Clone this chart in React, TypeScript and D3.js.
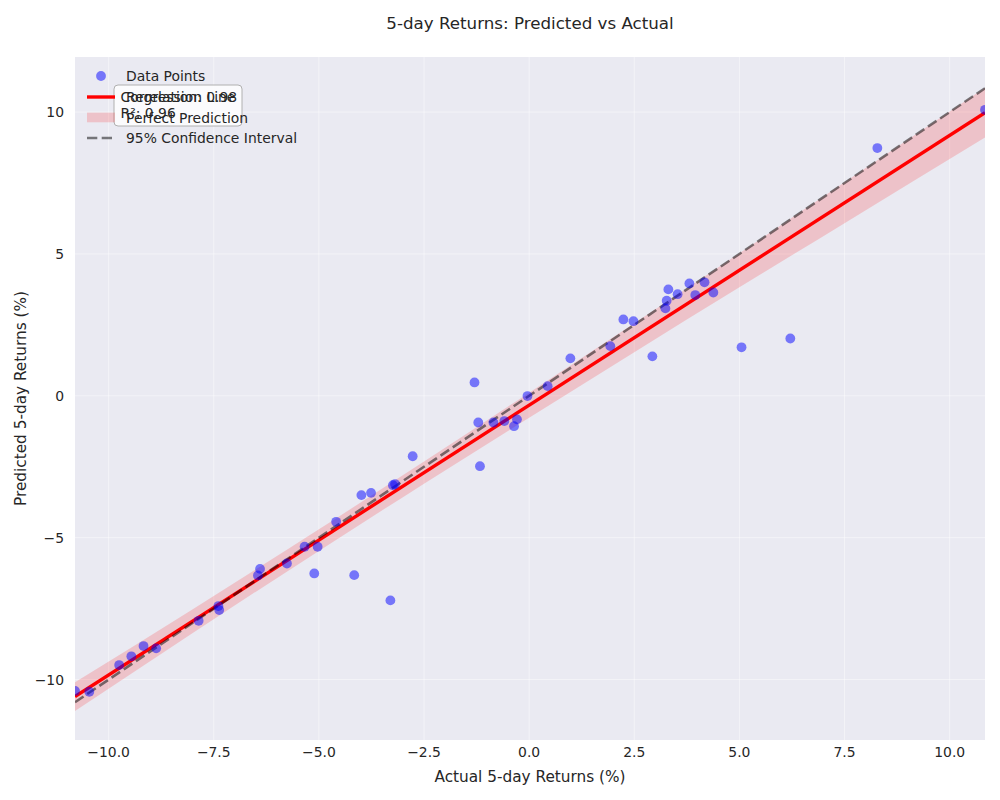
import React from "react";
import * as d3 from "d3";

// ---- data ----
const actual: number[] = [
  -10.8, -10.46, -9.75, -9.46, -9.17, -8.87, -7.86, -7.39, -7.37, -6.45, -6.4,
  -5.76, -5.34, -5.03, -5.11, -4.59, -4.16, -3.99, -3.76, -3.3, -3.24, -3.19,
  -2.77, -1.3, -1.21, -1.17, -0.85, -0.59, -0.29, -0.36, -0.04, 0.44, 0.98,
  1.93, 2.24, 2.48, 2.93, 3.24, 3.27, 3.31, 3.53, 3.81, 3.95, 4.17, 4.38, 5.05,
  6.21, 8.28, 10.84,
];
const predicted: number[] = [
  -10.4, -10.43, -9.49, -9.18, -8.82, -8.9, -7.93, -7.41, -7.55, -6.33, -6.1,
  -5.91, -5.32, -5.32, -6.26, -4.44, -6.32, -3.5, -3.42, -7.21, -3.15, -3.11,
  -2.13, 0.47, -0.94, -2.48, -0.94, -0.89, -0.83, -1.07, -0.01, 0.34, 1.32,
  1.75, 2.69, 2.63, 1.39, 3.08, 3.35, 3.75, 3.58, 3.96, 3.55, 4.0, 3.64, 1.71,
  2.02, 8.73, 10.08,
];

const regressionSlope = 0.951;
const regressionIntercept = -0.33;

// confidence band half-widths sampled along x
const bandX: number[] = [-10.8, -8, -5, -2.5, 0, 2.5, 5, 7.5, 10.84];
const bandHalf: number[] = [0.51, 0.42, 0.38, 0.39, 0.44, 0.51, 0.6, 0.72, 0.88];

const xTicks: number[] = [-10, -7.5, -5, -2.5, 0, 2.5, 5, 7.5, 10];
const yTicks: number[] = [-10, -5, 0, 5, 10];
const xDomain: [number, number] = [-10.8, 10.84];
const yDomain: [number, number] = [-12.13, 11.94];

const correlationText = "Correlation: 0.98";
const r2Text = "R²: 0.96";
const legendLabels: string[] = [
  "Data Points",
  "Regression Line",
  "Perfect Prediction",
  "95% Confidence Interval",
];

const FONT = "DejaVu Sans, sans-serif";
const TEXT = "#262626";

export default function App() {
  const W = 1000,
    H = 800;
  const left = 75,
    right = 985,
    top = 57,
    bottom = 740;
  const x = d3.scaleLinear().domain(xDomain).range([left, right]);
  const y = d3.scaleLinear().domain(yDomain).range([bottom, top]);

  const fmtX = (v: number) => v.toFixed(1).replace("-", "\u2212");
  const fmtY = (v: number) => String(v).replace("-", "\u2212");

  const regY = (v: number) => regressionSlope * v + regressionIntercept;

  const band = d3
    .area<number>()
    .x((d) => x(d))
    .y0((d, i) => y(regY(d) - bandHalf[i]))
    .y1((d, i) => y(regY(d) + bandHalf[i]))
    .curve(d3.curveMonotoneX)(bandX) as string;

  const line = d3
    .line<number>()
    .x((d) => x(d))
    .y((d) => y(regY(d)));
  const regPath = line(xDomain as number[]) as string;
  const perfect = d3
    .line<number>()
    .x((d) => x(d))
    .y((d) => y(d))(xDomain as number[]) as string;

  const lx0 = 87,
    lx1 = 115,
    ltext = 126;
  const rowY = [76, 97, 117.5, 138];
  const redW = 3.4;
  const bandOp = 0.17;

  return (
    <svg
      width={W}
      height={H}
      style={{ position: "absolute", left: 0, top: 0, background: "#fff" }}
      fontFamily={FONT}
    >
      <defs>
        <clipPath id="plotclip">
          <rect x={left} y={top} width={right - left} height={bottom - top} />
        </clipPath>
      </defs>
      <rect x={0} y={0} width={W} height={H} fill="#fff" />
      <rect x={left} y={top} width={right - left} height={bottom - top} fill="#eaeaf2" />
      {/* grid */}
      <g stroke="#fff" strokeOpacity={0.45} strokeWidth={1}>
        {xTicks.map((t) => (
          <line key={"gx" + t} x1={x(t)} x2={x(t)} y1={top} y2={bottom} />
        ))}
        {yTicks.map((t) => (
          <line key={"gy" + t} x1={left} x2={right} y1={y(t)} y2={y(t)} />
        ))}
      </g>
      <g clipPath="url(#plotclip)">
        <path d={band} fill="red" fillOpacity={bandOp} />
        <path d={regPath} stroke="red" strokeWidth={redW} fill="none" />
        <path
          d={perfect}
          stroke="#000"
          strokeOpacity={0.5}
          strokeWidth={2.6}
          strokeDasharray="10.3,4.4"
          fill="none"
        />
        {actual.map((a, i) => (
          <circle key={i} cx={x(a)} cy={y(predicted[i])} r={4.9} fill="blue" fillOpacity={0.5} />
        ))}
      </g>
      {/* tick labels */}
      <g fontSize={13.9} fill={TEXT}>
        {xTicks.map((t) => (
          <text key={"tx" + t} x={x(t)} y={757} textAnchor="middle">
            {fmtX(t)}
          </text>
        ))}
        {yTicks.map((t) => (
          <text key={"ty" + t} x={64} y={y(t) + 5} textAnchor="end">
            {fmtY(t)}
          </text>
        ))}
      </g>
      {/* axis labels */}
      <text x={(left + right) / 2} y={782} textAnchor="middle" fontSize={15.3} fill={TEXT}>
        Actual 5-day Returns (%)
      </text>
      <text
        transform={`translate(26,${(top + bottom) / 2}) rotate(-90)`}
        textAnchor="middle"
        fontSize={15.3}
        fill={TEXT}
      >
        Predicted 5-day Returns (%)
      </text>
      {/* title */}
      <text x={(left + right) / 2} y={29} textAnchor="middle" fontSize={16.7} fill={TEXT}>
        5-day Returns: Predicted vs Actual
      </text>
      {/* stats box */}
      <rect
        x={114}
        y={85}
        width={128}
        height={41}
        rx={4}
        fill="#fff"
        fillOpacity={0.8}
        stroke="#b0b0b0"
        strokeWidth={1}
      />
      <text x={120.5} y={102} fontSize={13.9} fill={TEXT}>
        {correlationText}
      </text>
      <text x={120.5} y={118} fontSize={13.9} fill={TEXT}>
        {r2Text}
      </text>
      {/* legend */}
      <g>
        <circle cx={(lx0 + lx1) / 2} cy={rowY[0]} r={4.9} fill="blue" fillOpacity={0.5} />
        <line x1={lx0} x2={lx1} y1={rowY[1]} y2={rowY[1]} stroke="red" strokeWidth={redW} />
        <rect x={lx0} y={rowY[2] - 4.9} width={lx1 - lx0} height={9.7} fill="red" fillOpacity={bandOp} />
        <line
          x1={lx0}
          x2={lx1}
          y1={rowY[3]}
          y2={rowY[3]}
          stroke="#000"
          strokeOpacity={0.5}
          strokeWidth={2.6}
          strokeDasharray="10.3,4.4"
        />
        {legendLabels.map((l, i) => (
          <text key={l} x={ltext} y={rowY[i] + 5} fontSize={13.9} fill={TEXT}>
            {l}
          </text>
        ))}
      </g>
    </svg>
  );
}
